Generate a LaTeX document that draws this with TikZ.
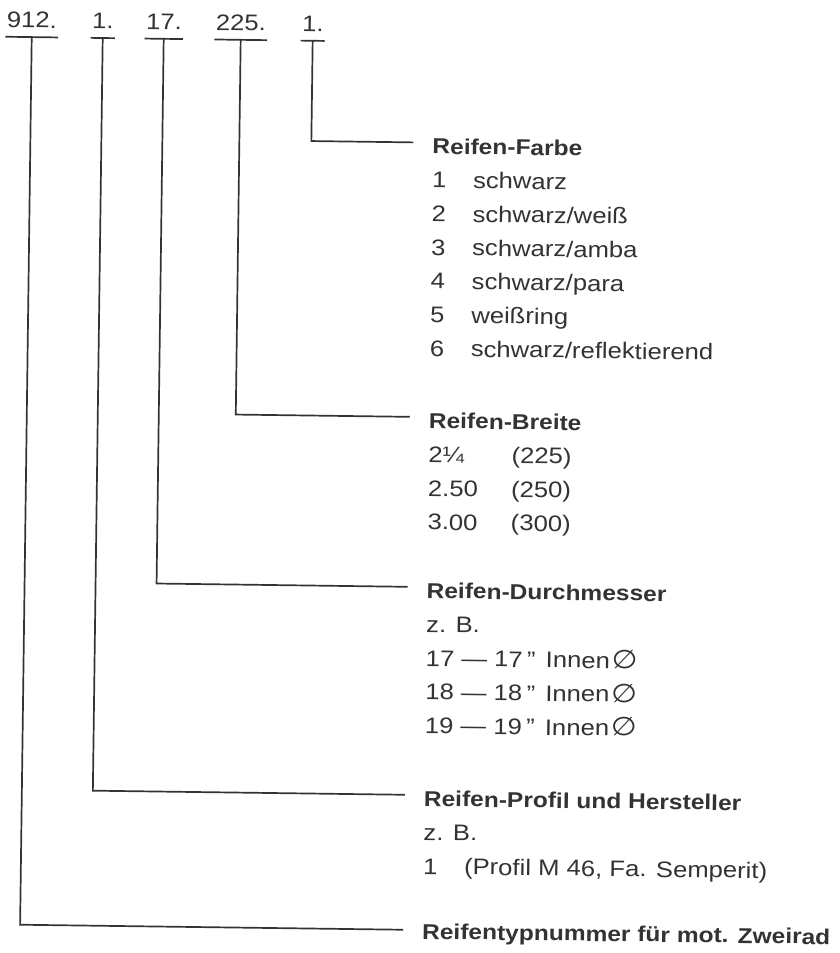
\documentclass[tikz,border=0pt]{standalone}
\usepackage{fontspec}
\setmainfont{Liberation Sans}
\newfontfamily\symfont{DejaVu Sans}
\definecolor{ink}{HTML}{333333}
\newcommand{\dia}{\hspace{1.5pt}{\symfont\fontsize{26}{27}\selectfont ∅}}
\newcommand{\inch}{\,\symbol{"22}\hspace{9pt}}
\begin{document}
\begin{tikzpicture}[x=1pt,y=1pt,
  txt/.style={font=\fontsize{22.5}{27}\selectfont, text=ink, inner sep=0pt, anchor=base west, xscale=1.14},
  ttl/.style={font=\fontsize{21.5}{26}\selectfont\bfseries, text=ink, inner sep=0pt, anchor=base west, xscale=1.14},
  num/.style={font=\fontsize{22.5}{27}\selectfont, text=ink, inner xsep=1pt, inner ysep=9pt, text depth=0pt, anchor=base, xscale=1.14},
  wire/.style={draw=ink, line width=1.7pt},
]
\useasboundingbox (0,0) rectangle (840,-953);
\begin{scope}[rotate around={-0.75:(420,-476)}, transform shape]
% top code
\node[num] (lA) at (26,-33)  {912.};
\node[num] (lB) at (97,-33)  {1.};
\node[num] (lC) at (158,-33) {17.};
\node[num] (lD) at (235,-33) {225.};
\node[num] (lE) at (307,-33) {1.};
\foreach \n in {lA,lB,lC,lD,lE}
  \draw[wire] (\n.south west) -- (\n.south east);
% corners and ends
\coordinate (cA) at (26,-930);   \coordinate (eA) at (409,-930);
\coordinate (cB) at (97,-795);   \coordinate (eB) at (409,-795);
\coordinate (cC) at (158,-587);  \coordinate (eC) at (409,-587);
\coordinate (cD) at (235,-417);  \coordinate (eD) at (409,-417);
\coordinate (cE) at (307,-142.5);\coordinate (eE) at (409,-142.5);
\draw[wire] (lA.south) -- (cA) -- (eA);
\draw[wire] (lB.south) -- (cB) -- (eB);
\draw[wire] (lC.south) -- (cC) -- (eC);
\draw[wire] (lD.south) -- (cD) -- (eD);
\draw[wire] (lE.south) -- (cE) -- (eE);
% Farbe
\node[ttl] (tE) at (428,-153.7) {Reifen-Farbe};
\node[txt] (f1) at (428,-187.75) {\makebox[36pt][l]{1}schwarz};
\node[txt] (f2) at (428,-221.45) {\makebox[36pt][l]{2}schwarz/weiß};
\node[txt] (f3) at (428,-255.15) {\makebox[36pt][l]{3}schwarz/amba};
\node[txt] (f4) at (428,-288.85) {\makebox[36pt][l]{4}schwarz/para};
\node[txt] (f5) at (428,-322.55) {\makebox[36pt][l]{5}weißring};
\node[txt] (f6) at (428,-356.25) {\makebox[36pt][l]{6}schwarz/reflektierend};
% Breite
\node[ttl] (tD) at (428,-428.2) {Reifen-Breite};
\node[txt] (b1) at (428,-462.25) {\makebox[73pt][l]{2¼}(225)};
\node[txt] (b2) at (428,-495.95) {\makebox[73pt][l]{2.50}(250)};
\node[txt] (b3) at (428,-529.65) {\makebox[73pt][l]{3.00}(300)};
% Durchmesser
\node[ttl] (tC) at (428,-598.2) {Reifen-Durchmesser};
\node[txt] (d0) at (428,-632.25) {z. B.};
\node[txt] (d1) at (428,-665.95) {17 — 17\inch Innen\dia};
\node[txt] (d2) at (428,-699.65) {18 — 18\inch Innen\dia};
\node[txt] (d3) at (428,-733.35) {19 — 19\inch Innen\dia};
% Profil
\node[ttl] (tB) at (428,-806.2) {Reifen-Profil und Hersteller};
\node[txt] (p0) at (428,-840.25) {z. B.};
\node[txt] (p1) at (428,-873.95) {\makebox[36pt][l]{1}(Profil M 46, Fa. Semperit)};
% Typnummer
\node[ttl] (tA) at (428,-939) {Reifentypnummer für mot. Zweirad};
\end{scope}
\end{tikzpicture}
\end{document}
